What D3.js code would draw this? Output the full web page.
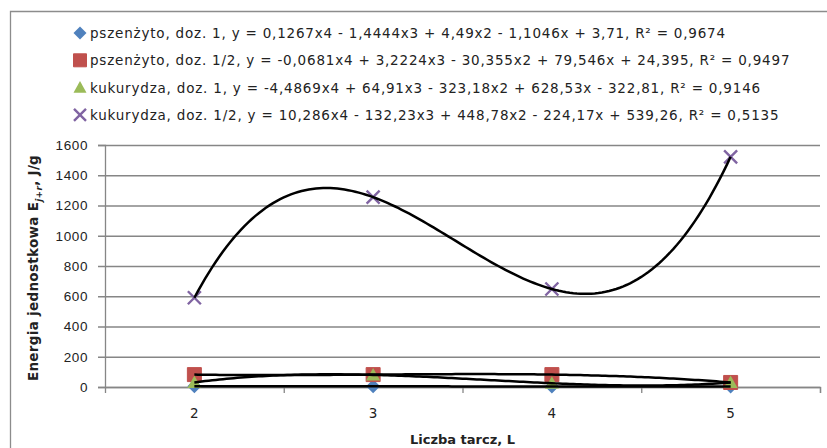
<!DOCTYPE html>
<html>
<head>
<meta charset="utf-8">
<script src="https://cdn.jsdelivr.net/npm/d3@7"></script>
<style>
  body { margin: 0; background: #fff; }
  svg { display: block; font-family: "DejaVu Sans", sans-serif; }
</style>
</head>
<body>
<svg></svg>
<script>
const width = 827;
const height = 448;

// liczba tarcz L
const categories = [2, 3, 4, 5];
const pszenzyto1 = [5, 5, 3, 3];
const pszenzyto12 = [82, 82, 82, 30];
const kukurydza1 = [30, 80, 25, 30];
const kukurydza12 = [590, 1255, 648, 1522];
const yTicks = [0, 200, 400, 600, 800, 1000, 1200, 1400, 1600];

const legendLabels = [
  'pszenżyto, doz. 1, y = 0,1267x4 - 1,4444x3 + 4,49x2 - 1,1046x + 3,71, R² = 0,9674',
  'pszenżyto, doz. 1/2, y = -0,0681x4 + 3,2224x3 - 30,355x2 + 79,546x + 24,395, R² = 0,9497',
  'kukurydza, doz. 1, y = -4,4869x4 + 64,91x3 - 323,18x2 + 628,53x - 322,81, R² = 0,9146',
  'kukurydza, doz. 1/2, y = 10,286x4 - 132,23x3 + 448,78x2 - 224,17x + 539,26, R² = 0,5135'
]

const series = [
  { values: pszenzyto1, color: '#4F81BD', marker: 'diamond' },
  { values: pszenzyto12, color: '#C0504D', marker: 'square' },
  { values: kukurydza1, color: '#9BBB59', marker: 'triangle' },
  { values: kukurydza12, color: '#8064A2', marker: 'x' }
]

const plot = { left: 105, right: 820, top: 145, bottom: 387 }

const svg = d3.select('svg')
  .attr('width', width)
  .attr('height', height)

// chart border (cropped on right/bottom)
svg.append('path')
  .attr('d', `M10.5,${height} V11.5 H${width}`)
  .attr('fill', 'none')
  .attr('stroke', '#8c8c8c')
  .attr('stroke-width', 1.3)

const x = d3.scaleLinear().domain([1.5, 5.5]).range([plot.left, plot.right])
const y = d3.scaleLinear().domain([0, 1600]).range([plot.bottom, plot.top])

// gridlines + y axis
const yAxis = d3.axisLeft(y).tickValues(yTicks).tickSize(7).tickPadding(10).tickFormat(d3.format('d'))
const gy = svg.append('g')
  .attr('transform', `translate(${plot.left},0)`)
  .call(yAxis)
gy.select('.domain').attr('stroke', '#868686').attr('stroke-width', 1.3)
gy.selectAll('.tick line').attr('stroke', '#868686').attr('stroke-width', 1.3)
  .attr('x2', plot.right - plot.left).attr('x1', -7)
gy.selectAll('.tick text')
  .attr('fill', '#222')
  .style('font-size', '13.5px')
  .style('letter-spacing', '0.6px')

// x axis
const gx = svg.append('g')
  .attr('transform', `translate(0,${plot.bottom})`)
  .call(d3.axisBottom(x).tickValues([2.5, 3.5, 4.5, 5.5]).tickSize(6).tickFormat(''))
gx.select('.domain').attr('stroke', '#868686').attr('stroke-width', 1.3)
gx.selectAll('.tick line').attr('stroke', '#868686').attr('stroke-width', 1.3)

svg.append('g')
  .selectAll('text')
  .data(categories)
  .join('text')
  .attr('x', d => x(d))
  .attr('y', 418)
  .attr('text-anchor', 'middle')
  .attr('fill', '#222')
  .style('font-size', '13.5px')
  .text(d => d)

// axis titles
svg.append('text')
  .attr('x', x(3.5))
  .attr('y', 444)
  .attr('text-anchor', 'middle')
  .attr('fill', '#222')
  .style('font-size', '13px')
  .style('font-weight', 'bold')
  .text('Liczba tarcz, L')

const yt = svg.append('text')
  .attr('transform', `translate(38,${(plot.top + plot.bottom) / 2 + 2}) rotate(-90)`)
  .attr('text-anchor', 'middle')
  .attr('fill', '#222')
  .style('font-size', '13.5px')
  .style('font-weight', 'bold')
  .style('letter-spacing', '0.3px')
yt.append('tspan').text('Energia jednostkowa E')
yt.append('tspan').attr('dy', 4).style('font-size', '9px').style('font-style', 'italic').text('j+r')
yt.append('tspan').attr('dy', -4).text(', J/g')

function markerPath(type, s) {
  const h = s / 2
  if (type === 'diamond') return `M0,${-h}L${h},0L0,${h}L${-h},0Z`
  if (type === 'square') return `M${-h},${-h}h${s}v${s}h${-s}Z`
  if (type === 'triangle') return `M0,${-h}L${h},${h * 0.8}L${-h},${h * 0.8}Z`
  return `M${-h},${-h}L${h},${h}M${h},${-h}L${-h},${h}`
}

function drawMarker(g, type, color, s) {
  const p = g.append('path').attr('d', markerPath(type, s))
  if (type === 'x') {
    p.attr('fill', 'none').attr('stroke', color).attr('stroke-width', 2.4)
  } else {
    p.attr('fill', color)
    if (type === 'square') p.attr('stroke', color).attr('stroke-width', 1).attr('stroke-linejoin', 'round')
  }
}

// markers
series.forEach(s => {
  const g = svg.append('g')
  s.values.forEach((v, i) => {
    const mg = g.append('g').attr('transform', `translate(${x(categories[i])},${y(v)})`)
    drawMarker(mg, s.marker, s.color, s.marker === 'x' ? 13 : 14)
  })
})

// trendlines: polynomial through the points (Lagrange)
function poly(xs, ys) {
  return t => d3.sum(xs, (xi, i) => {
    let term = ys[i]
    xs.forEach((xj, j) => { if (j !== i) term *= (t - xj) / (xi - xj) })
    return term
  })
}

const line = d3.line().x(d => x(d[0])).y(d => y(d[1])).curve(d3.curveLinear)
const ts = d3.range(2, 5.0001, 0.02)
series.forEach(s => {
  const f = poly(categories, s.values)
  svg.append('path')
    .attr('d', line(ts.map(t => [t, f(t)])))
    .attr('fill', 'none')
    .attr('stroke', '#000')
    .attr('stroke-width', 2.5)
})

// legend
const legend = svg.append('g')
legendLabels.forEach((lab, i) => {
  const ly = 33 + i * 27.3
  const mg = legend.append('g').attr('transform', `translate(80,${ly})`)
  drawMarker(mg, series[i].marker, series[i].color, i === 3 ? 12 : 13)
  legend.append('text')
    .attr('x', 90)
    .attr('y', ly + 5)
    .attr('fill', '#222')
    .style('font-size', '13.5px')
    .style('letter-spacing', '0.8px')
    .text(lab)
})
</script>
</body>
</html>
